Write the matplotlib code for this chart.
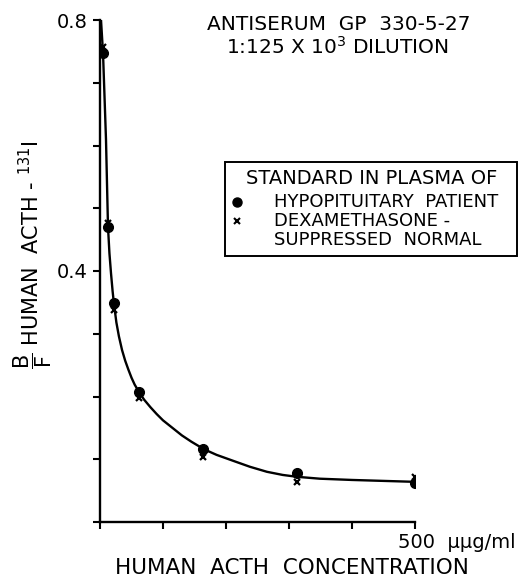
import matplotlib
matplotlib.use("Agg")
import matplotlib.pyplot as plt
from matplotlib.lines import Line2D
from matplotlib.patches import Rectangle

# concentrations (uug/ml)
conc = [5, 12.7, 22, 62, 163, 313, 500]
# B/F, standard in plasma of hypopituitary patient (dots)
bf_hypo = [0.747, 0.470, 0.349, 0.207, 0.116, 0.078, 0.062]
# B/F, dexamethasone-suppressed normal (crosses)
bf_dexa = [0.757, 0.476, 0.338, 0.198, 0.104, 0.064, 0.072]

# hand-drawn fitted curve
curve_x = [1.6, 4.8, 9.5, 12.7, 15, 17.5, 20, 22, 26, 30, 35, 40, 45, 50, 55,
           62, 70, 80, 90, 100, 115, 130, 145, 165, 185, 210, 238, 265, 290,
           313, 349, 400, 500]
curve_y = [0.800, 0.747, 0.610, 0.470, 0.428, 0.396, 0.368, 0.349, 0.318,
           0.296, 0.274, 0.257, 0.243, 0.230, 0.219, 0.207, 0.195, 0.183,
           0.172, 0.162, 0.150, 0.138, 0.128, 0.116, 0.107, 0.098, 0.088,
           0.080, 0.075, 0.072, 0.069, 0.067, 0.064]

yticks = [0, 0.1, 0.2, 0.3, 0.4, 0.5, 0.6, 0.7, 0.8]
ytick_labels = ["", "", "", "", "0.4", "", "", "", "0.8"]
xticks = [0, 100, 200, 300, 400, 500]

plt.rcParams['font.family'] = ['DejaVu Sans']
plt.rcParams['mathtext.fontset'] = 'dejavusans'

fig = plt.figure(figsize=(5.2, 5.83), dpi=100)
ax = fig.add_axes([100 / 520, 1 - 522 / 583, 315 / 520, 502 / 583])

ax.plot(curve_x, curve_y, color='black', lw=1.7, solid_joinstyle='round',
        solid_capstyle='round', zorder=2)
ax.plot(conc, bf_hypo, 'o', color='black', ms=7, zorder=3)
ax.plot(conc, bf_dexa, 'x', color='black', ms=5, mew=1.6, zorder=3)

ax.set_xlim(0, 500)
ax.set_ylim(0, 0.8)
for s in ['top', 'right']:
    ax.spines[s].set_visible(False)
for s in ['left', 'bottom']:
    ax.spines[s].set_linewidth(1.7)
ax.set_yticks(yticks)
ax.set_yticklabels(ytick_labels)
ax.set_xticks(xticks)
ax.set_xticklabels([])
ax.tick_params(axis='both', direction='out', length=5, width=1.5,
               labelsize=14, pad=4)

ax.annotate("500  µµg/ml", xy=(500, 0), xycoords=('data', 'axes fraction'),
            xytext=(-12.5, -15), textcoords='offset points',
            ha='left', va='center', fontsize=14)

fig.text(292 / 520, 1 - 568 / 583, "HUMAN  ACTH  CONCENTRATION",
         ha='center', va='center', fontsize=15.5)
fig.text(33 / 520, 1 - 255 / 583,
         r"$\dfrac{\mathrm{B}}{\mathrm{F}}$ HUMAN  ACTH - $^{131}$I",
         rotation=90, ha='center', va='center', fontsize=15)

fig.text(339 / 520, 1 - 24 / 583, "ANTISERUM  GP  330-5-27",
         ha='center', va='center', fontsize=14.5)
fig.text(337 / 520, 1 - 47 / 583, r"1:125 X 10$^3$ DILUTION",
         ha='center', va='center', fontsize=14.5)

# legend box drawn by hand
fig.patches.append(Rectangle((225 / 520, 1 - 256 / 583), 292 / 520, 94 / 583,
                             transform=fig.transFigure, fill=False,
                             edgecolor='black', lw=1.4))
fig.text(372 / 520, 1 - 178 / 583, "STANDARD IN PLASMA OF",
         ha='center', va='center', fontsize=14)
fig.text(274 / 520, 1 - 202 / 583, "HYPOPITUITARY  PATIENT",
         ha='left', va='center', fontsize=13)
fig.text(274 / 520, 1 - 221 / 583, "DEXAMETHASONE -",
         ha='left', va='center', fontsize=13)
fig.text(274 / 520, 1 - 240 / 583, "SUPPRESSED  NORMAL",
         ha='left', va='center', fontsize=13)
fig.lines.append(Line2D([237 / 520], [1 - 202 / 583], marker='o', color='black',
                        ms=6.5, transform=fig.transFigure))
fig.lines.append(Line2D([237 / 520], [1 - 221 / 583], marker='x', color='black',
                        ms=4.5, mew=1.5, transform=fig.transFigure))

fig.savefig("out.png", dpi=100)
